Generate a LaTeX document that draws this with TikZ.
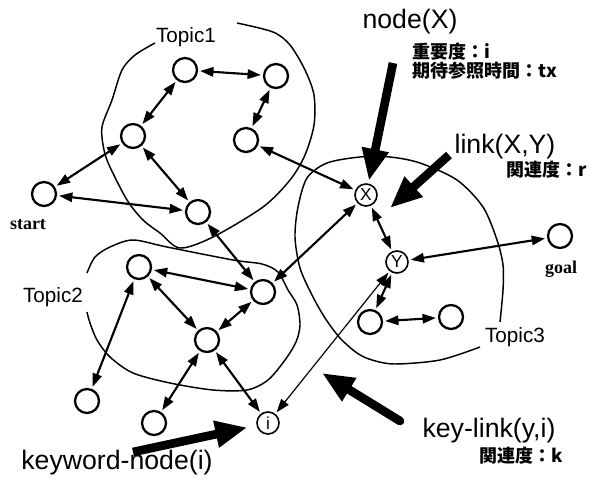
\documentclass[tikz,border=0pt]{standalone}
\usepackage{fontspec}
\setmainfont{Liberation Sans}
\newfontfamily\romanfont{Liberation Serif}
\newfontfamily\jpfont{Noto Sans CJK JP}
\usetikzlibrary{arrows.meta}

\begin{document}
\begin{tikzpicture}[
       x=0.75pt, y=-0.75pt,
       >={Triangle[length=10pt,width=7pt]},
       vertex/.style={
         circle,
         draw,
         line width=1.7pt,
         inner sep=0pt,
         minimum size=18pt
       },
       named/.style={
         circle,
         draw,
         line width=1.2pt,
         inner sep=0pt,
         minimum size=16.5pt,
         font=\fontsize{13}{13}\selectfont
       },
       link/.style={<->, line width=1.6pt, shorten <=1.5pt, shorten >=1.5pt},
       thinlink/.style={<->, line width=0.9pt, shorten <=1.5pt, shorten >=1.5pt},
       contour/.style={line width=1.1pt},
       bigarrow/.style={line width=6.5pt, -{Triangle[length=24pt,width=19pt]}},
       topic/.style={font=\fontsize{15.5}{18}\selectfont},
       small/.style={font=\romanfont\bfseries\fontsize{13.5}{16}\selectfont},
       title/.style={font=\fontsize{20}{24}\selectfont},
       jp/.style={font=\jpfont\bfseries\fontsize{13.5}{16}\selectfont, inner sep=0pt}
     ]

       \useasboundingbox (0,0) rectangle (592,479);

       % Topic1
       \node (t1) at (185,70) [vertex]{};
       \node (t2) at (276,76) [vertex]{};
       \node (t3) at (133,136) [vertex]{};
       \node (t4) at (246,140) [vertex]{};
       \node (start) at (44,194) [vertex]{};
       \node (t5) at (198,212) [vertex]{};

       % Topic2
       \node (u1) at (139,267) [vertex]{};
       \node (u2) at (263,292) [vertex]{};
       \node (u3) at (207,340) [vertex]{};
       \node (u4) at (87,401) [vertex]{};
       \node (u5) at (154,423) [vertex]{};
       \node (i) at (268,423) [named]{i};

       % Topic3
       \node (X) at (366,195) [named]{X};
       \node (Y) at (397,262) [named]{Y};
       \node (goal) at (560,236) [vertex]{};
       \node (v1) at (370,322) [vertex]{};
       \node (v2) at (451,317) [vertex]{};

       \draw [link] (t1) -- (t2);
       \draw [link] (t1) -- (t3);
       \draw [link] (t2) -- (t4);
       \draw [link] (t3) -- (start);
       \draw [link] (t3) -- (t5);
       \draw [link] (start) -- (t5);
       \draw [link] (t4) -- (X);
       \draw [link] (t5) -- (u2);

       \draw [link] (u1) -- (u2);
       \draw [link] (u1) -- (u3);
       \draw [link] (u2) -- (u3);
       \draw [link] (u1) -- (u4);
       \draw [link] (u3) -- (u5);
       \draw [link] (u3) -- (i);
       \draw [link] (X) -- (u2);

       \draw [link] (X) -- (Y);
       \draw [link] (Y) -- (goal);
       \draw [link] (Y) -- (v1);
       \draw [link] (v1) -- (v2);
       \draw [thinlink] (i) -- (Y);

       % topic outlines
       \draw [contour] plot[smooth] coordinates {(155,43) (135,55) (122,70) (112,100) (102,127)
         (104,150) (110,167) (127,200) (143,220) (160,233) (180,248) (213,237) (263,207)
         (290,180) (305,155) (314,125) (314,95) (305,70) (290,45) (273,32) (237,23)};
       \draw [contour] plot[smooth] coordinates {(87,273) (95,257) (110,247) (133,240) (167,247)
         (233,260) (262,264) (278,272) (288,290) (297,305) (300,325) (296,342) (285,360)
         (268,380) (247,390) (213,390) (170,383) (133,373) (110,357) (97,340) (90,323) (87,312)};
       \draw [contour] plot[smooth] coordinates {(500,322) (503,290) (503,265) (497,240) (483,207)
         (457,180) (420,163) (390,157) (360,157) (327,163) (307,178) (298,207) (295,237)
         (300,268) (312,295) (325,318) (340,338) (357,353) (372,360) (395,364) (440,360) (480,347)};

       \node (lt1) at (186,37) [topic]{Topic1};
       \node (lt2) at (53,297) [topic]{Topic2};
       \node (lt3) at (515,337) [topic]{Topic3};
       \node (lstart) at (28,225) [small]{start};
       \node (lgoal) at (561,269) [small]{goal};

       % callouts
       \node (lx) at (410,22) [title]{node(X)};
       \node (lx1) at (412,52) [jp, anchor=west]{重要度：i};
       \node (lx2) at (412,71) [jp, anchor=west]{期待参照時間：tx};
       \node (lxy) at (505,147) [title]{link(X,Y)};
       \node (lxy1) at (587,170) [jp, anchor=east]{関連度：r};
       \node (lk) at (489,431) [title]{key-link(y,i)};
       \node (lk1) at (563,456) [jp, anchor=east]{関連度：k};
       \node (li) at (117,463) [title]{keyword-node(i)};

       \coordinate (ax) at (393,63);
       \coordinate (axy) at (449,155);
       \coordinate (txy) at (390,208);
       \coordinate (ak) at (400,421);
       \coordinate (tk) at (322,373);
       \coordinate (ai) at (133,452);

       \draw [bigarrow, shorten >=2pt] (ax) -- (X);
       \draw [bigarrow] (axy) -- (txy);
       \draw [bigarrow, line cap=round] (ak) -- (tk);
       \draw [bigarrow, shorten >=7pt] (ai) -- (i);

\end{tikzpicture}
\end{document}
